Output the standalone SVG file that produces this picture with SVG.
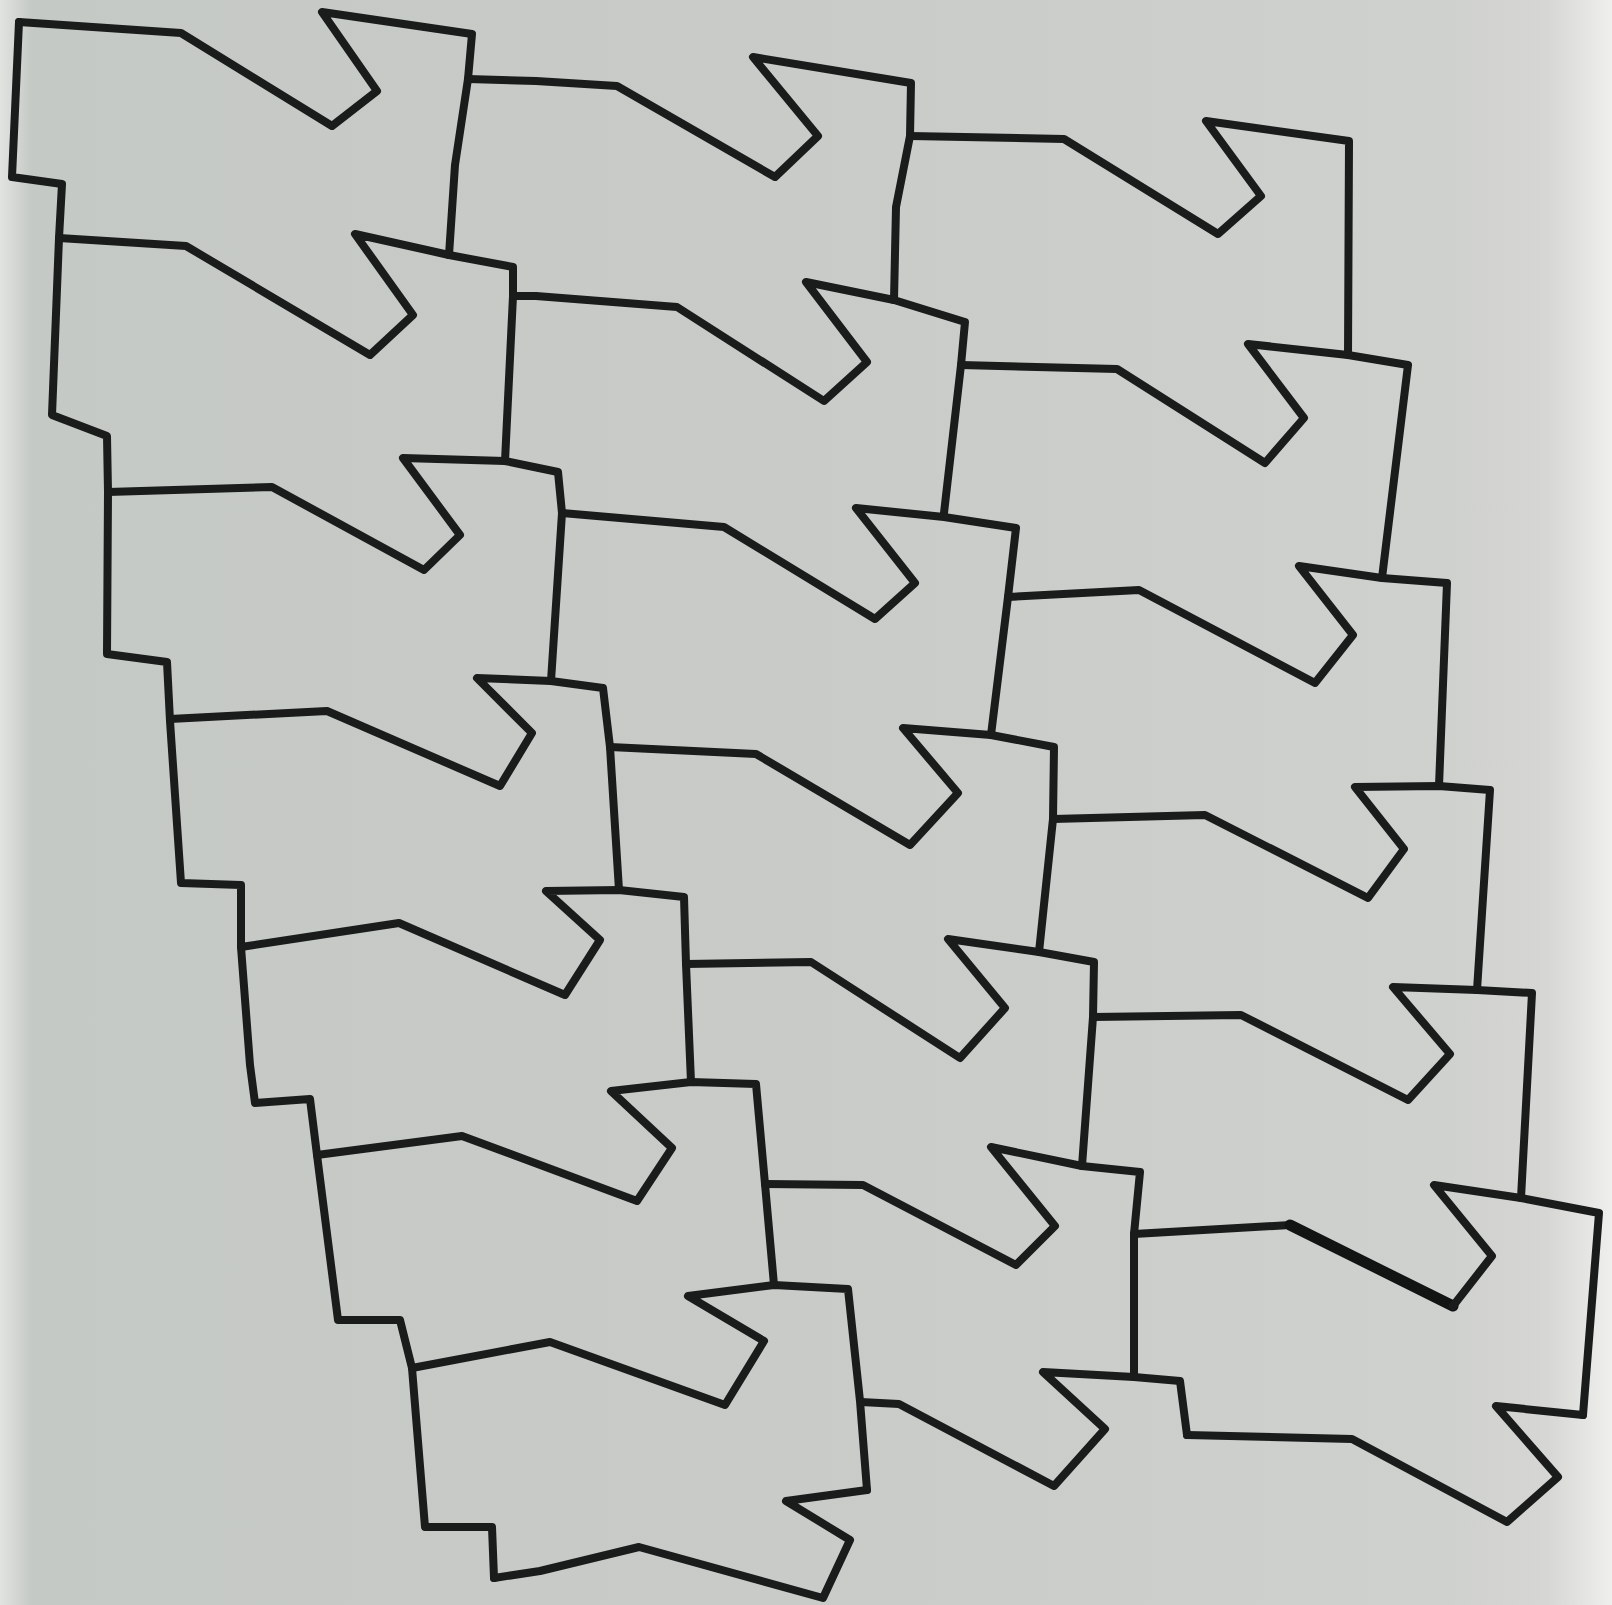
<svg xmlns="http://www.w3.org/2000/svg" width="1612" height="1605" viewBox="0 0 1612 1605">
<defs>
<linearGradient id="paper" x1="0" y1="0" x2="1" y2="0">
<stop offset="0" stop-color="#e1e3e1"/>
<stop offset="0.02" stop-color="#c5c9c5"/>
<stop offset="0.5" stop-color="#c8cbc8"/>
<stop offset="0.9" stop-color="#cfd1cf"/>
<stop offset="0.96" stop-color="#d6d7d4"/>
<stop offset="1" stop-color="#efefed"/>
</linearGradient>
<style>
.ln{fill:none;stroke:#1a1c1c;stroke-width:8;stroke-linejoin:round;stroke-linecap:round}
.heavy{fill:none;stroke:#121414;stroke-width:11;stroke-linejoin:round;stroke-linecap:round}
</style>
</defs>
<rect width="1612" height="1605" fill="url(#paper)"/>
<g id="left-edge" class="ln">
<polyline points="19,22 12,177 62,184 59,238 52,415 107,436 108,492 107,654 167,662 170,721 181,883 241,885 241,947 250,1065 255,1103 310,1099 317,1155 338,1320 400,1320 412,1368 425,1527 492,1527 494,1578"/>
</g>
<g id="column-1" class="ln">
<polyline points="19,22 181,33 332,126 377,91 322,12 472,34 468,79 455,165 449,255"/>
<polyline points="59,238 186,246 370,355 413,315 355,234 449,255 513,267 513,296 505,461"/>
<polyline points="108,492 272,487 424,570 460,535 403,458 505,461 558,472 562,513 551,681"/>
<polyline points="170,719 327,711 500,786 532,733 477,678 551,681 603,688 610,747 619,890"/>
<polyline points="241,947 399,923 565,995 600,940 546,891 619,890 684,897 686,964 691,1082"/>
<polyline points="317,1155 462,1136 637,1201 672,1148 611,1091 691,1082 756,1084 765,1184 774,1285"/>
<polyline points="412,1368 550,1342 725,1405 764,1341 688,1296 774,1285 848,1289 860,1401 867,1490"/>
<polyline points="494,1578 540,1571 639,1547 823,1598 850,1540 786,1501 867,1490"/>
</g>
<g id="column-2" class="ln">
<polyline points="468,79 536,81 617,86 775,177 818,136 753,57 911,83 910,136 896,207 894,300"/>
<polyline points="513,296 536,296 677,307 824,401 867,362 806,282 894,300 965,322 961,365 944,513"/>
<polyline points="562,513 724,527 875,619 915,583 856,508 944,517 1016,528 1008,597 991,735"/>
<polyline points="610,747 756,754 910,845 958,793 903,728 991,735 1054,747 1053,819 1039,952"/>
<polyline points="686,964 811,962 960,1058 1005,1008 948,939 1039,952 1094,962 1093,1017 1082,1166"/>
<polyline points="765,1184 863,1185 1016,1265 1055,1226 991,1147 1082,1166 1140,1172 1134,1234 1134,1377"/>
<polyline points="861,1402 899,1404 1054,1486 1105,1429 1043,1372 1134,1377 1180,1381 1187,1435"/>
</g>
<g id="column-3" class="ln">
<polyline points="910,136 1064,139 1218,234 1261,196 1206,121 1349,141 1348,355"/>
<polyline points="961,365 1117,369 1265,463 1304,418 1248,344 1348,355 1408,365 1382,578"/>
<polyline points="1008,597 1139,590 1315,683 1353,635 1299,566 1382,578 1447,583 1439,786"/>
<polyline points="1053,819 1205,815 1368,898 1404,849 1355,787 1439,786 1490,790 1477,990"/>
<polyline points="1093,1017 1241,1015 1408,1100 1450,1054 1393,987 1477,990 1532,993 1521,1198"/>
<polyline points="1134,1234 1290,1225"/>
<polyline class="heavy" points="1290,1225 1453,1306"/>
<polyline points="1453,1306 1492,1256 1434,1185 1521,1198 1599,1213 1583,1415"/>
<polyline points="1187,1435 1352,1439 1507,1522 1558,1477 1496,1406 1583,1415"/>
</g>
</svg>
